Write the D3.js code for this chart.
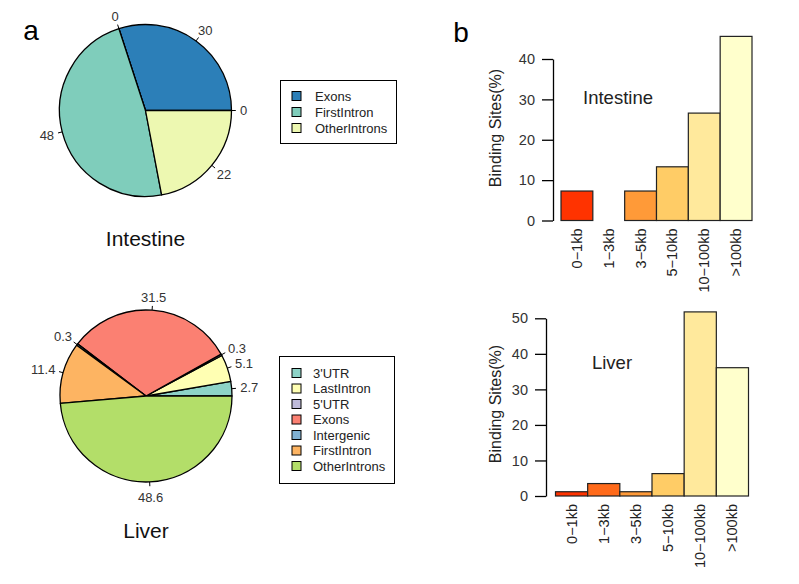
<!DOCTYPE html>
<html><head><meta charset="utf-8">
<script src="https://cdn.jsdelivr.net/npm/d3@7"></script>
<style>
body{margin:0;background:#fff}
text{font-family:"Liberation Sans",Arial,Helvetica,sans-serif}
</style>
</head><body>
<svg id="c" width="799" height="584"></svg>
<script>
// ---------- data ----------
const intestineCats = ["5'UTR", "Exons", "Intergenic", "FirstIntron", "OtherIntrons"];
const intestineVals = [0, 30, 0, 48, 22];
const intestineColors = ["#BEBADA", "#2C7FB8", "#80B1D3", "#7FCDBB", "#EDF8B1"];
const intestineLegend = ["Exons", "FirstIntron", "OtherIntrons"];

const liverCats = ["3'UTR", "LastIntron", "5'UTR", "Exons", "Intergenic", "FirstIntron", "OtherIntrons"];
const liverVals = [2.7, 5.1, 0.3, 31.5, 0.3, 11.4, 48.6];
const liverColors = ["#8DD3C7", "#FFFFB3", "#BEBADA", "#FB8072", "#80B1D3", "#FDB462", "#B3DE69"];
const liverLegend = ["3'UTR", "LastIntron", "5'UTR", "Exons", "Intergenic", "FirstIntron", "OtherIntrons"];

const distCats = ["0\u22121kb", "1\u22123kb", "3\u22125kb", "5\u221210kb", "10\u2212100kb", ">100kb"];
const intestineDist = [7.3, 0, 7.3, 13.3, 26.6, 45.6];
const liverDist = [1.2, 3.5, 1.2, 6.3, 51.8, 36.1];
const distColors = ["#FF3300", "#FF6A1A", "#FF9A38", "#FFCC66", "#FFE99C", "#FFFFCC"];
const intestineTicks = [0, 10, 20, 30, 40];
const liverTicks = [0, 10, 20, 30, 40, 50];

// ---------- drawing ----------
const svg = d3.select("#c");
svg.append("rect").attr("width", 799).attr("height", 584).attr("fill", "#fff");

function drawPie(cx, cy, r, cats, vals, colors, title, titleY) {
  const pie = d3.pie().sort(null).value(d => d).startAngle(0).endAngle(2 * Math.PI);
  const slices = pie(vals);
  const arc = d3.arc().innerRadius(0).outerRadius(r);
  const g = svg.append("g").attr("transform", `translate(${cx},${cy})`);
  g.selectAll("path.slice").data(slices).join("path")
    .attr("class", "slice")
    .attr("d", s => arc({startAngle: Math.PI / 2 - s.endAngle, endAngle: Math.PI / 2 - s.startAngle}))
    .attr("fill", (s, i) => colors[i])
    .attr("stroke", "#000").attr("stroke-width", 1.3).attr("stroke-linejoin", "round");
  slices.forEach((s, i) => {
    const th = (s.startAngle + s.endAngle) / 2;
    const c = Math.cos(th), sn = Math.sin(th);
    g.append("line")
      .attr("x1", r * c).attr("y1", -r * sn)
      .attr("x2", 1.05 * r * c).attr("y2", -1.05 * r * sn)
      .attr("stroke", "#000").attr("stroke-width", 1);
    const t = g.append("text")
      .attr("x", 1.1 * r * c).attr("y", -1.1 * r * sn)
      .attr("text-anchor", "middle").attr("dominant-baseline", "central")
      .attr("font-size", 13).attr("fill", "#333")
      .text(String(vals[i]));
    const w = t.node().getComputedTextLength();
    const h = sn < 0 ? 13 : 9;
    t.attr("dx", c / 2 * w).attr("dy", -sn / 2 * h);
  });
  svg.append("text").attr("x", cx).attr("y", titleY)
    .attr("text-anchor", "middle").attr("font-size", 21).attr("fill", "#111")
    .text(title);
}

function drawLegend(x, y, w, h, items, cats, colors, rowY0, step, sqX, txtX) {
  const g = svg.append("g");
  g.append("rect").attr("x", x).attr("y", y).attr("width", w).attr("height", h)
    .attr("fill", "#fff").attr("stroke", "#000").attr("stroke-width", 1);
  items.forEach((name, i) => {
    const yy = rowY0 + i * step;
    g.append("rect").attr("x", sqX).attr("y", yy - 4.5).attr("width", 9).attr("height", 9)
      .attr("fill", colors[cats.indexOf(name)]).attr("stroke", "#000").attr("stroke-width", 1);
    g.append("text").attr("x", txtX).attr("y", yy).attr("dominant-baseline", "central")
      .attr("font-size", 13).attr("fill", "#222").text(name);
  });
}

function drawBars(vals, ticks, axisX, bx0, bx1, y0, yTop, label, labelX, labelY, yTitleY) {
  const tmax = ticks[ticks.length - 1];
  const x = d3.scaleBand().domain(distCats).range([bx0, bx1]).padding(0);
  const y = d3.scaleLinear().domain([0, tmax]).range([y0, yTop]);
  const g = svg.append("g");
  g.selectAll("rect.bar").data(vals).join("rect")
    .attr("class", "bar")
    .attr("x", (d, i) => x(distCats[i]))
    .attr("y", d => y(d))
    .attr("width", x.bandwidth())
    .attr("height", d => y(0) - y(d))
    .attr("fill", (d, i) => distColors[i])
    .attr("stroke", "#222").attr("stroke-width", 1.2);
  const ax = g.append("g").attr("transform", `translate(${axisX},0)`)
    .call(d3.axisLeft(y).tickValues(ticks).tickSize(11).tickSizeOuter(0).tickPadding(7));
  ax.select(".domain").attr("stroke", "#000").attr("stroke-width", 1.3);
  ax.selectAll(".tick line").attr("stroke", "#000").attr("stroke-width", 1.3);
  ax.selectAll(".tick text").attr("font-size", 14.5).attr("fill", "#333")
    .attr("font-family", "Liberation Sans, Arial, sans-serif");
  g.selectAll("text.cat").data(distCats).join("text")
    .attr("class", "cat")
    .attr("transform", d => `translate(${x(d) + x.bandwidth() / 2},${y0 + 8}) rotate(-90)`)
    .attr("text-anchor", "end").attr("dominant-baseline", "central")
    .attr("font-size", 14.5).attr("fill", "#222").text(d => d);
  g.append("text")
    .attr("transform", `translate(495,${yTitleY}) rotate(-90)`)
    .attr("text-anchor", "middle").attr("dominant-baseline", "central")
    .attr("font-size", 16).attr("fill", "#222").text("Binding Sites(%)");
  g.append("text").attr("x", labelX).attr("y", labelY)
    .attr("text-anchor", "middle").attr("dominant-baseline", "central")
    .attr("font-size", 18.5).attr("fill", "#222").text(label);
}

svg.append("text").attr("x", 31).attr("y", 40).attr("text-anchor", "middle")
  .attr("font-size", 28).attr("fill", "#000").text("a");
svg.append("text").attr("x", 461).attr("y", 41.5).attr("text-anchor", "middle")
  .attr("font-size", 28).attr("fill", "#000").text("b");

drawPie(145.5, 110.5, 86, intestineCats, intestineVals, intestineColors, "Intestine", 246);
drawLegend(280.5, 80.5, 116, 63, intestineLegend, intestineCats, intestineColors, 96, 16, 292, 315);

drawPie(146, 396, 86, liverCats, liverVals, liverColors, "Liver", 538);
drawLegend(279.5, 356.5, 115, 127, liverLegend, liverCats, liverColors, 373, 15.5, 292, 313);

drawBars(intestineDist, intestineTicks, 553, 561, 752, 220.5, 59, "Intestine", 618, 97, 128);
drawBars(liverDist, liverTicks, 546, 555.5, 748.5, 496, 318.3, "Liver", 612, 362, 404);
</script>
</body></html>
